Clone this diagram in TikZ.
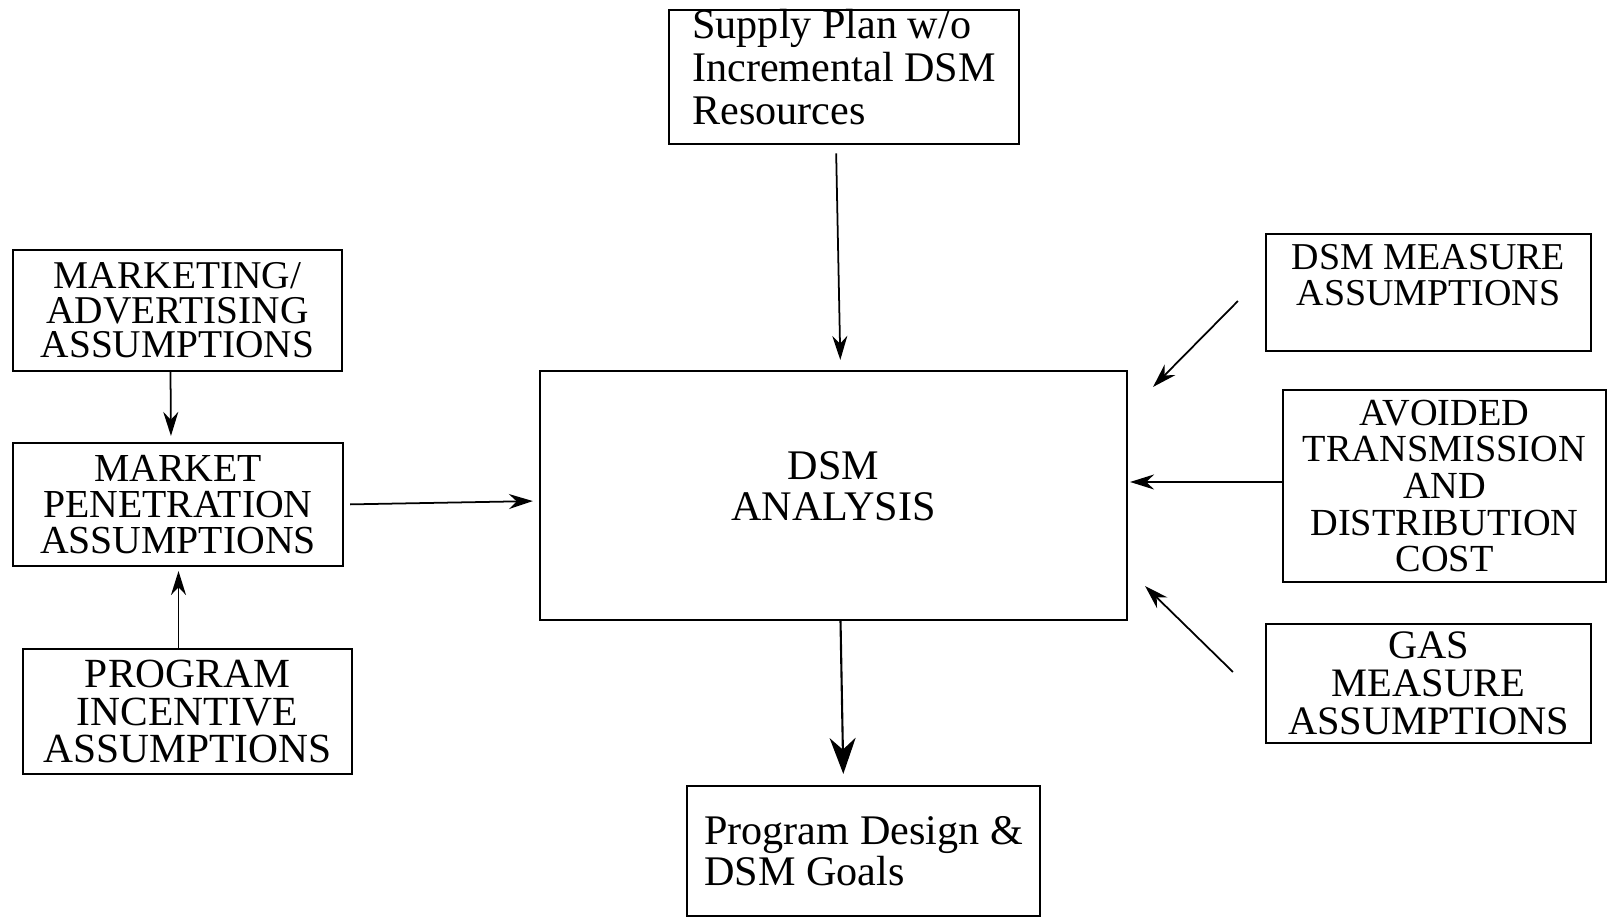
\documentclass[tikz,border=0pt]{standalone}
\usepackage{fontspec}
\setmainfont{Liberation Serif}
\usetikzlibrary{arrows.meta}
\begin{document}
\begin{tikzpicture}[
  box/.style={draw, line width=0.6pt, inner sep=0pt, align=center},
  arr/.style={line width=0.5pt, -{Stealth[length=0.24cm, width=0.15cm]}},
  bigarr/.style={line width=0.6pt, -{Stealth[length=0.36cm, width=0.26cm]}}]
\useasboundingbox (0,0) rectangle (16.09,9.19);
% centre column
\node[box, align=left, minimum width=3.50cm, minimum height=1.34cm, font=\fontsize{12}{12.2}\selectfont] (supply) at (8.44,8.42) {Supply Plan w/o\\Incremental DSM\\Resources\\[-6.6pt]\mbox{}};
\node[box, minimum width=5.87cm, minimum height=2.49cm, font=\fontsize{12}{11.6}\selectfont] (dsm) at (8.335,4.235) {DSM\\ANALYSIS\\[-6.4pt]\mbox{}};
\node[box, align=left, minimum width=3.53cm, minimum height=1.30cm, font=\fontsize{12}{11.8}\selectfont] (goals) at (8.635,0.68) {Program Design \&\\DSM Goals};
% left column
\node[box, minimum width=3.29cm, minimum height=1.21cm, font=\fontsize{11.2}{9.8}\selectfont] (mkt) at (1.775,6.085) {MARKETING/\\ADVERTISING\\ASSUMPTIONS};
\node[box, minimum width=3.30cm, minimum height=1.23cm, font=\fontsize{11.3}{10.3}\selectfont] (pen) at (1.78,4.145) {MARKET\\PENETRATION\\ASSUMPTIONS};
\node[box, minimum width=3.29cm, minimum height=1.25cm, font=\fontsize{11.8}{10.8}\selectfont] (inc) at (1.875,2.075) {PROGRAM\\INCENTIVE\\ASSUMPTIONS};
% right column
\node[box, minimum width=3.25cm, minimum height=1.17cm, font=\fontsize{10.8}{10.2}\selectfont] (dsmm) at (14.285,6.265) {DSM MEASURE\\ASSUMPTIONS\\\mbox{}};
\node[box, minimum width=3.23cm, minimum height=1.92cm, font=\fontsize{10.9}{10.4}\selectfont] (avt) at (14.445,4.33) {AVOIDED\\TRANSMISSION\\AND\\DISTRIBUTION\\COST};
\node[box, minimum width=3.25cm, minimum height=1.19cm, font=\fontsize{11.5}{10.8}\selectfont] (gas) at (14.285,2.355) {GAS\\MEASURE\\ASSUMPTIONS};
% connectors
\draw[arr, shorten <=0.08cm, shorten >=0.1cm] ([xshift=-0.08cm]supply.south) -- ([xshift=0.07cm]dsm.north);
\draw[arr, shorten >=0.06cm] ([xshift=-0.07cm]mkt.south) -- ([xshift=-0.07cm]pen.north);
\draw[arr, shorten >=0.04cm] ([xshift=-0.09cm]inc.north) -- ([xshift=-0.09cm]inc.north |- pen.south);
\draw[arr, shorten <=0.06cm, shorten >=0.06cm] (pen.east) -- ([yshift=-0.055cm]dsm.west);
\draw[bigarr, shorten >=0.11cm] ([xshift=0.07cm]dsm.south) -- ([xshift=-0.2cm]goals.north);
\draw[arr] ([shift={(-0.27,-0.085)}]dsmm.west) -- ([shift={(0.25,-0.17)}]dsm.north east);
\draw[arr, shorten >=0.02cm] ([yshift=0.04cm]avt.west) -- ([yshift=0.04cm]avt.west -| dsm.east);
\draw[arr] ([shift={(-0.32,0.115)}]gas.west) -- ([shift={(0.17,0.35)}]dsm.south east);
\end{tikzpicture}
\end{document}
